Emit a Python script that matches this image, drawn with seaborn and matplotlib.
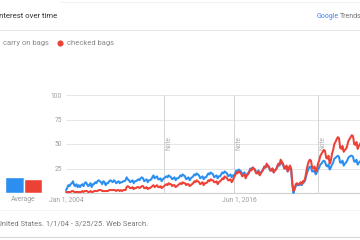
import numpy as np
import pandas as pd
import matplotlib
matplotlib.use("Agg")
import matplotlib.pyplot as plt
import seaborn as sns
from matplotlib.lines import Line2D

sns.set_theme(style="white")
plt.rcParams['font.family'] = ['Roboto', 'DejaVu Sans']

# ---- data (monthly, Jan 2004 - Mar 2025) ----
carry_on = [
    3, 5, 8, 7, 9, 10, 12, 8, 7, 9, 6, 8,          # 2004
    6, 8, 9, 7, 10, 11, 9, 7, 8, 10, 6, 9,         # 2005
    9, 11, 10, 12, 13, 12, 11, 9, 12, 11, 8, 10,   # 2006
    10, 12, 13, 12, 11, 13, 12, 10, 11, 12, 10, 11,  # 2007
    11, 12, 12, 13, 16, 14, 13, 11, 12, 13, 10, 12,  # 2008
    12, 13, 14, 13, 15, 16, 15, 12, 13, 14, 11, 13,  # 2009
    13, 14, 16, 18, 15, 16, 17, 14, 14, 15, 12, 14,  # 2010
    15, 16, 17, 16, 18, 17, 16, 14, 15, 16, 13, 15,  # 2011
    15, 16, 18, 17, 19, 18, 17, 14, 15, 16, 13, 15,  # 2012
    16, 17, 19, 18, 20, 19, 18, 15, 16, 17, 14, 16,  # 2013
    16, 18, 20, 19, 21, 20, 19, 16, 17, 18, 15, 17,  # 2014
    17, 19, 21, 20, 22, 21, 20, 17, 18, 19, 16, 18,  # 2015
    18, 20, 23, 22, 24, 23, 22, 19, 20, 21, 17, 19,  # 2016
    20, 22, 25, 24, 26, 25, 24, 21, 21, 23, 19, 21,  # 2017
    22, 24, 27, 26, 28, 27, 26, 23, 23, 25, 21, 23,  # 2018
    24, 26, 29, 28, 31, 30, 29, 25, 25, 27, 22, 24,  # 2019
    25, 23, 8, 0, 4, 7, 9, 8, 8, 10, 8, 10,          # 2020
    11, 13, 18, 22, 25, 27, 26, 22, 22, 23, 19, 21,  # 2021
    24, 26, 29, 30, 32, 33, 32, 28, 27, 29, 24, 26,  # 2022
    29, 31, 35, 36, 37, 38, 37, 31, 31, 33, 28, 30,  # 2023
    31, 33, 36, 37, 38, 38, 37, 32, 32, 34, 29, 31,  # 2024
    32, 34, 36,                                      # 2025
]
checked = [
    1, 1, 1, 1, 1, 2, 2, 1, 1, 1, 1, 1,            # 2004
    1, 1, 2, 1, 2, 2, 2, 1, 1, 2, 1, 1,            # 2005
    2, 2, 2, 2, 3, 3, 3, 2, 2, 2, 2, 2,            # 2006
    2, 3, 3, 3, 3, 3, 3, 2, 3, 3, 2, 3,            # 2007
    2, 3, 3, 3, 6, 7, 6, 5, 5, 6, 4, 5,            # 2008
    5, 6, 6, 5, 6, 7, 7, 5, 5, 6, 4, 5,            # 2009
    5, 6, 7, 8, 6, 7, 8, 6, 6, 7, 5, 6,            # 2010
    7, 8, 9, 8, 10, 9, 9, 7, 8, 8, 6, 7,           # 2011
    8, 9, 10, 9, 11, 10, 10, 8, 9, 9, 7, 8,        # 2012
    9, 10, 12, 11, 13, 12, 11, 9, 10, 11, 8, 10,   # 2013
    10, 11, 13, 12, 14, 13, 13, 11, 11, 12, 9, 11,  # 2014
    12, 13, 15, 14, 17, 16, 15, 13, 13, 14, 11, 13,  # 2015
    16, 18, 21, 20, 22, 21, 20, 17, 18, 19, 15, 18,  # 2016
    19, 21, 24, 23, 26, 25, 23, 20, 20, 22, 18, 20,  # 2017
    22, 24, 27, 26, 30, 28, 27, 23, 23, 25, 21, 23,  # 2018
    24, 27, 30, 29, 34, 32, 30, 26, 25, 28, 22, 26,  # 2019
    28, 25, 10, 2, 5, 9, 10, 9, 9, 11, 9, 12,        # 2020
    12, 15, 22, 28, 32, 34, 33, 26, 25, 27, 22, 24,  # 2021
    30, 33, 38, 40, 42, 44, 43, 36, 35, 38, 30, 33,  # 2022
    40, 44, 50, 52, 55, 57, 56, 46, 45, 48, 42, 44,  # 2023
    45, 48, 53, 55, 57, 59, 58, 50, 49, 52, 45, 48,  # 2024
    50, 52, 56,                                      # 2025
]
series_names = ["carry on bags", "checked bags"]
averages = [16, 14]
note_years = [2011, 2016, 2022]
y_ticks = [25, 50, 75, 100]
x_tick_years = [2004.0, 2016 + 5 / 12]
x_tick_labels = ["Jan 1, 2004", "Jun 1, 2016"]

BLUE = "#2b8ef0"
RED = "#ee4136"
GRID = "#e6e6e6"
TXT = "#9e9e9e"

dates = 2004 + np.arange(len(carry_on)) / 12.0
df = pd.DataFrame({
    "t": np.concatenate([dates, dates]),
    "v": carry_on + checked,
    "s": [series_names[0]] * len(carry_on) + [series_names[1]] * len(checked),
})

W, H = 360, 240
fig = plt.figure(figsize=(3.6, 2.4), dpi=100)
fig.patch.set_facecolor("white")

def fx(px):
    return px / W

def fy(py):
    return 1 - py / H

# main line axes
y0, y100 = 193, 95
ax = fig.add_axes([fx(66), fy(y0), fx(360 - 66), (y0 - y100) / H])
ax.set_facecolor("none")
for yv in y_ticks:
    ax.axhline(yv, color=GRID, lw=0.7, zorder=0)
ax.axhline(0, color="#cfcfcf", lw=0.8, zorder=0)
for ny in note_years:
    ax.axvline(ny, color="#d4d4d4", lw=0.7, zorder=0)
    ax.text(ny + 0.38, 51, "Note", rotation=90, fontsize=4.8, color="#b0b0b0",
            ha="center", va="center")
sns.lineplot(data=df, x="t", y="v", hue="s", palette=[BLUE, RED], ax=ax,
             linewidth=1.45, legend=False, zorder=3)
for ln in ax.lines:
    ln.set_clip_on(False)
ax.set_xlim(2004, 2004 + (360 - 66) / 14.0)
ax.set_ylim(0, 100)
ax.set_yticks(y_ticks)
ax.set_yticklabels([str(v) for v in y_ticks])
ax.set_xticks(x_tick_years)
ax.set_xticklabels(x_tick_labels)
ax.tick_params(axis="both", length=0, labelsize=4.9, colors=TXT, pad=2.5)
ax.tick_params(axis="y", pad=3)
ax.set_xlabel("")
ax.set_ylabel("")
for sp in ax.spines.values():
    sp.set_visible(False)

# average bars axes
ax2 = fig.add_axes([0, fy(y0), fx(47), (y0 - y100) / H])
ax2.set_facecolor("none")
sns.barplot(x=series_names, y=averages, hue=series_names, palette=[BLUE, RED],
            width=1.0, ax=ax2, legend=False, saturation=1)
ax2.set_xlim(-0.5 - 5 / 18.5, -0.5 + 42 / 18.5)
ax2.set_ylim(0, 100)
ax2.axhline(0, color="#cfcfcf", lw=0.8)
ax2.set_xticks([0.5])
ax2.set_xticklabels(["Average"])
ax2.set_yticks([])
ax2.tick_params(axis="x", length=0, labelsize=4.9, colors=TXT, pad=2.5)
ax2.set_xlabel("")
ax2.set_ylabel("")
for sp in ax2.spines.values():
    sp.set_visible(False)

# header
fig.text(fx(-3), fy(16), "Interest over time", fontsize=5.6, color="#333333",
         ha="left", va="center")
fig.text(fx(317), fy(16), "Google", fontsize=5.0, color="#4285f4",
         ha="left", va="center")
fig.text(fx(340), fy(16), "Trends", fontsize=5.0, color="#757575",
         ha="left", va="center")
fig.add_artist(Line2D([0, 1], [fy(30), fy(30)], color="#e4e4e4", lw=0.7))
fig.add_artist(Line2D([fx(60), 1], [fy(2), fy(2)], color="#f0f0f0", lw=0.6))

# legend row
fig.text(fx(3), fy(43), series_names[0], fontsize=5.5, color="#8a8a8a",
         ha="left", va="center")
fig.add_artist(Line2D([fx(60)], [fy(43)], marker="o", markersize=3.4,
                      color=RED, lw=0))
fig.text(fx(67), fy(43), series_names[1], fontsize=5.5, color="#8a8a8a",
         ha="left", va="center")

# footer
fig.add_artist(Line2D([0, 1], [fy(210), fy(210)], color="#f2f2f2", lw=0.6))
fig.text(fx(-3), fy(224), "United States. 1/1/04 - 3/25/25. Web Search.",
         fontsize=5.45, color="#777777", ha="left", va="center")
fig.add_artist(Line2D([0, 1], [fy(237), fy(237)], color="#d8d8d8", lw=0.9))

fig.savefig("out.png", dpi=100)
